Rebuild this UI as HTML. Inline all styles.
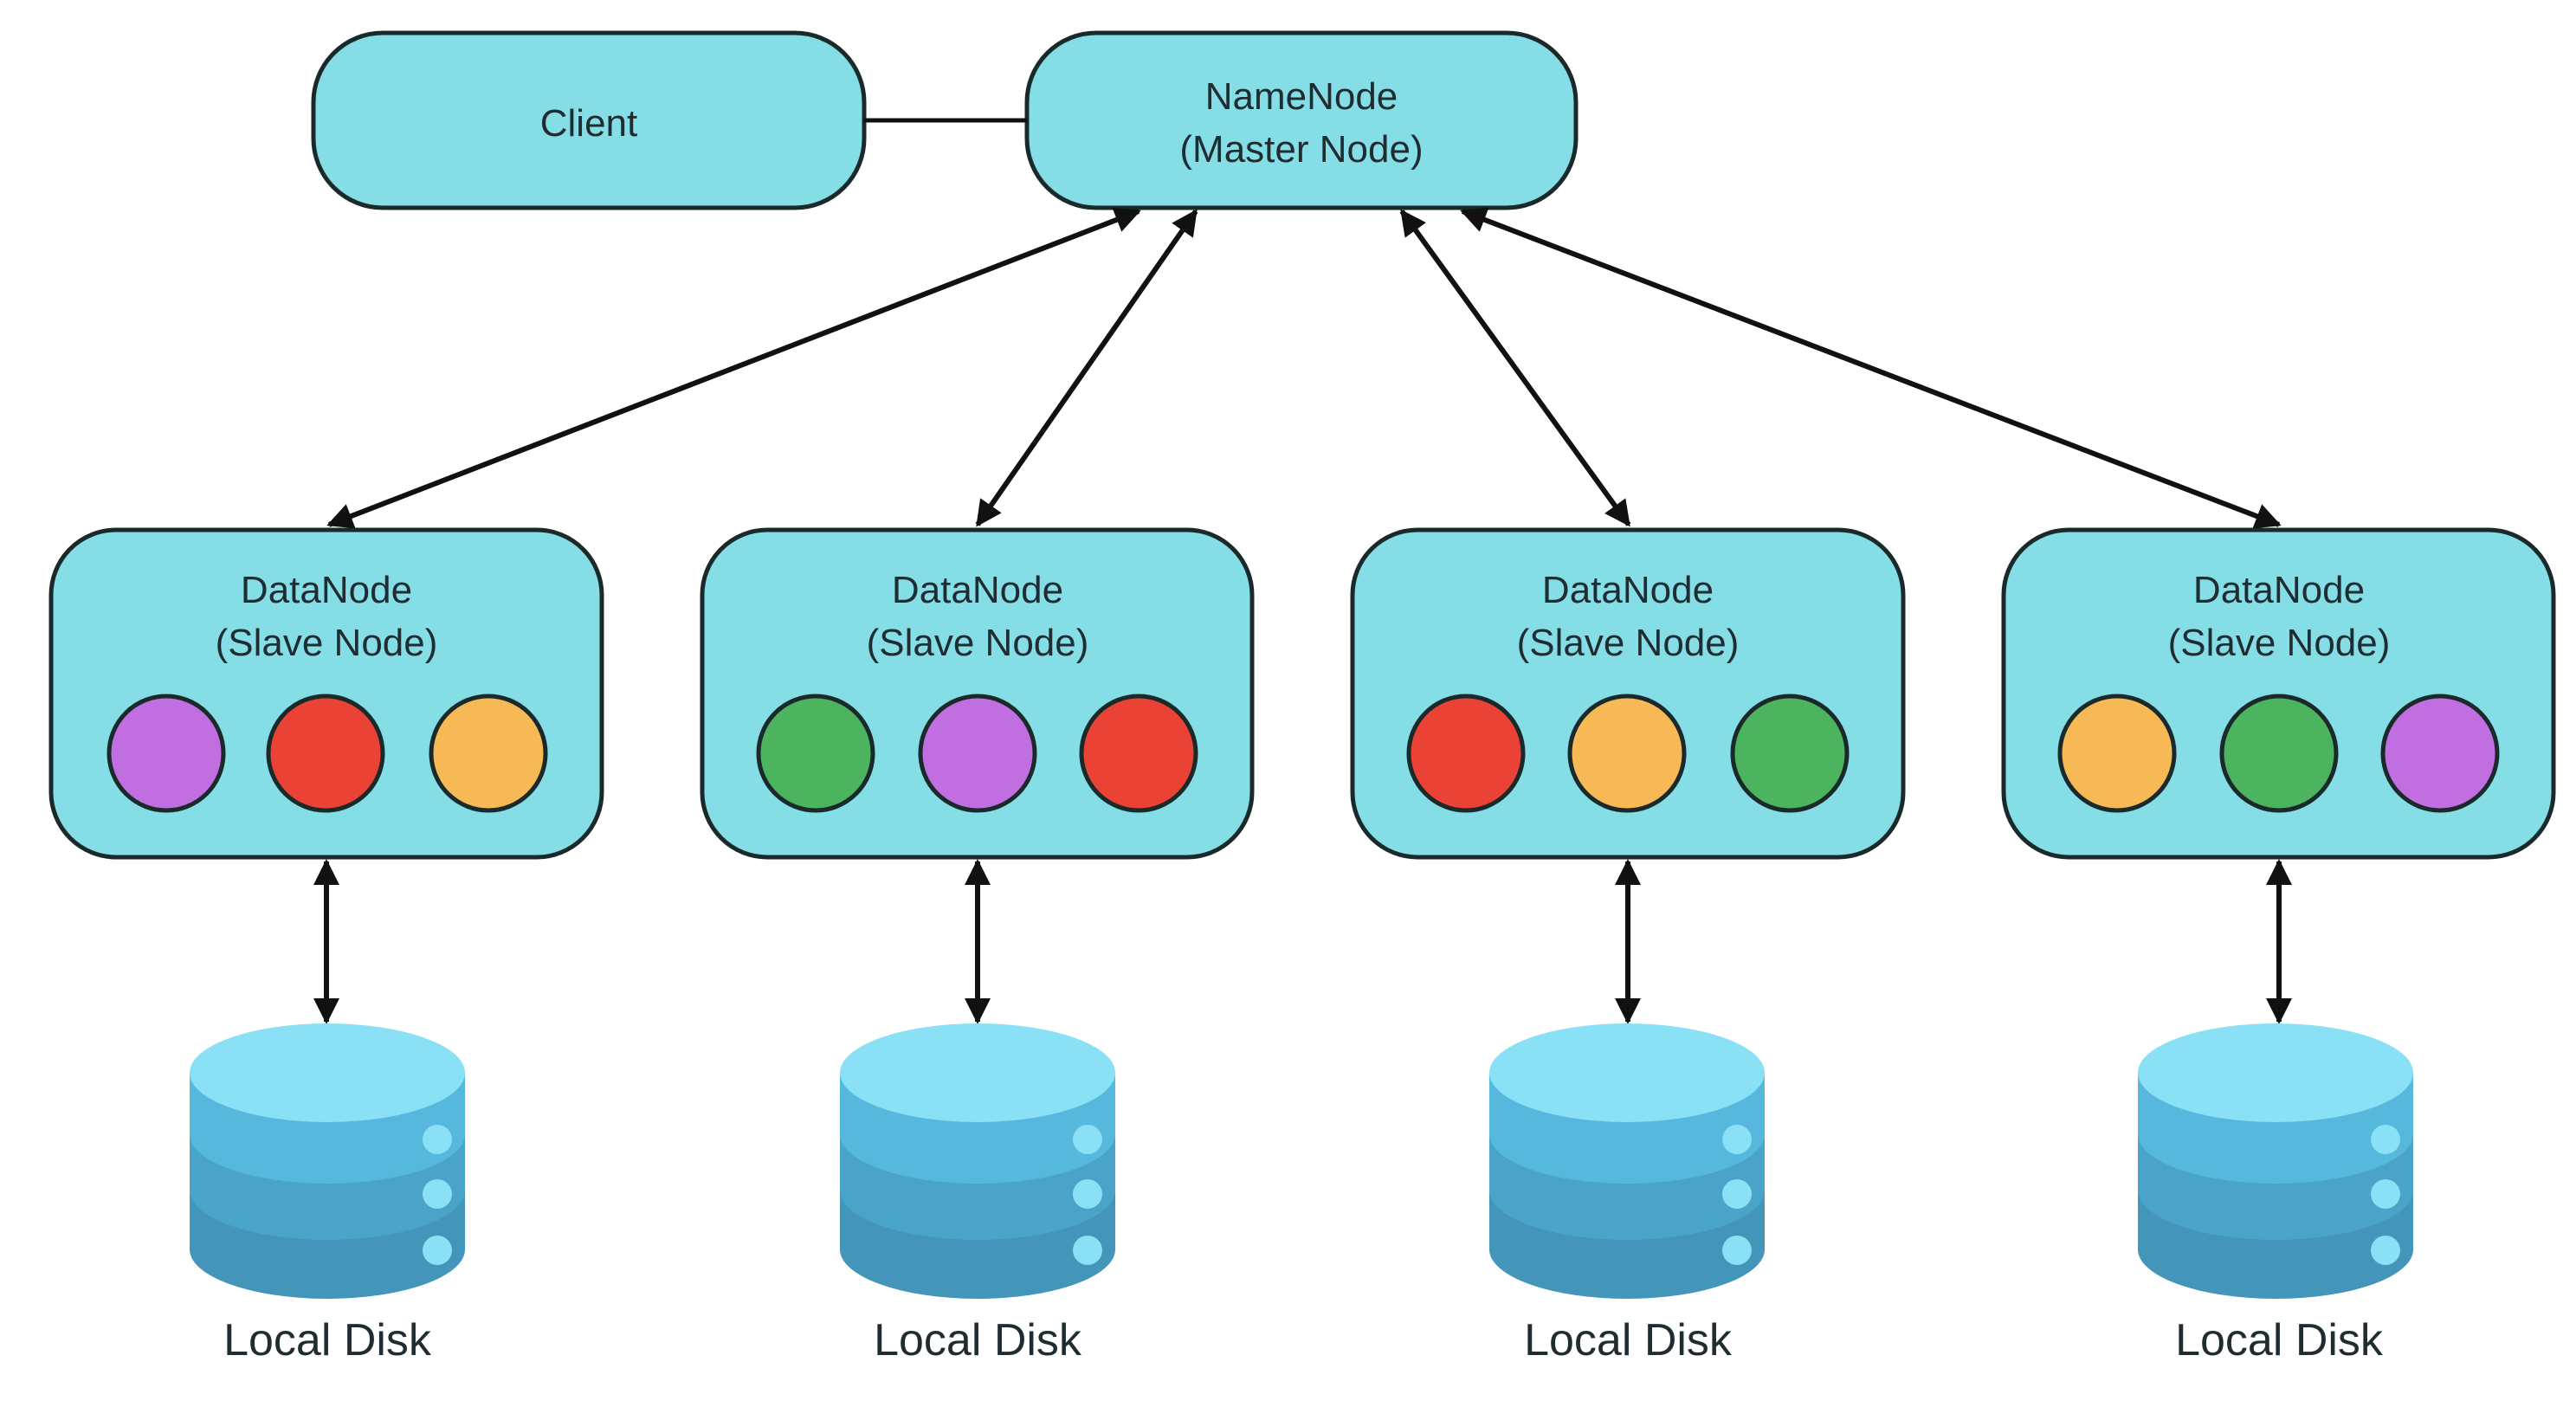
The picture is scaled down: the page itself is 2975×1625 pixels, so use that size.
<!DOCTYPE html>
<html><head><meta charset="utf-8"><style>
html,body{margin:0;padding:0;background:#fff;}
svg{display:block;}
text{font-family:"Liberation Sans",sans-serif;fill:#1f2d33;}
</style></head><body>
<svg width="2975" height="1625" viewBox="0 0 2975 1625" xmlns="http://www.w3.org/2000/svg">
<defs>
<marker id="ah" viewBox="0 0 10 10" refX="9" refY="5" markerWidth="5" markerHeight="5" orient="auto-start-reverse" markerUnits="strokeWidth">
<path d="M0,0 L10,5 L0,10 z" fill="#111"/></marker>
<g id="disk">
<path d="M-159,0 V204 A159,57 0 0 0 159,204 V0 Z" fill="#4395b9"/>
<path d="M-159,0 V136 A159,57 0 0 0 159,136 V0 Z" fill="#4aa3c8"/>
<path d="M-159,0 V71 A159,57 0 0 0 159,71 V0 Z" fill="#55b8dc"/>
<ellipse cx="0" cy="0" rx="159" ry="57" fill="#8ae0f5"/>
<ellipse cx="127" cy="77" rx="17" ry="17" fill="#8ae0f5"/>
<ellipse cx="127" cy="140" rx="17" ry="17" fill="#8ae0f5"/>
<ellipse cx="127" cy="205" rx="17" ry="17" fill="#8ae0f5"/>
</g>
</defs>
<g stroke="#1a2a2a" stroke-width="5" fill="#85dde6">
<rect x="362" y="38" width="636" height="202" rx="80"/>
<rect x="1186" y="38" width="634" height="202" rx="80"/>
<rect x="59" y="612" width="636" height="378" rx="75"/>
<rect x="811" y="612" width="635" height="378" rx="75"/>
<rect x="1562" y="612" width="636" height="378" rx="75"/>
<rect x="2314" y="612" width="635" height="378" rx="75"/>
</g>
<line x1="998" y1="139" x2="1186" y2="139" stroke="#111" stroke-width="5"/>
<g stroke="#111" stroke-width="6" fill="none" marker-start="url(#ah)" marker-end="url(#ah)">
<line x1="1315" y1="244" x2="380" y2="606"/>
<line x1="1381" y1="244" x2="1129" y2="606"/>
<line x1="1619" y1="244" x2="1881" y2="606"/>
<line x1="1689" y1="244" x2="2632" y2="606"/>
<line x1="377" y1="995" x2="377" y2="1180"/>
<line x1="1129" y1="995" x2="1129" y2="1180"/>
<line x1="1880" y1="995" x2="1880" y2="1180"/>
<line x1="2632" y1="995" x2="2632" y2="1180"/>
</g>
<g font-size="44" text-anchor="middle">
<text x="680" y="157">Client</text>
<text x="1503" y="126">NameNode</text>
<text x="1503" y="187">(Master Node)</text>
<text x="377" y="696">DataNode</text><text x="377" y="757">(Slave Node)</text>
<text x="1129" y="696">DataNode</text><text x="1129" y="757">(Slave Node)</text>
<text x="1880" y="696">DataNode</text><text x="1880" y="757">(Slave Node)</text>
<text x="2632" y="696">DataNode</text><text x="2632" y="757">(Slave Node)</text>
</g>
<g stroke="#1a2a2a" stroke-width="5">
<ellipse cx="192" cy="870" rx="66" ry="66" fill="#c06ee0"/>
<ellipse cx="376" cy="870" rx="66" ry="66" fill="#ea4335"/>
<ellipse cx="564" cy="870" rx="66" ry="66" fill="#f7b955"/>
<ellipse cx="942" cy="870" rx="66" ry="66" fill="#4cb35e"/>
<ellipse cx="1129" cy="870" rx="66" ry="66" fill="#c06ee0"/>
<ellipse cx="1315" cy="870" rx="66" ry="66" fill="#ea4335"/>
<ellipse cx="1693" cy="870" rx="66" ry="66" fill="#ea4335"/>
<ellipse cx="1879" cy="870" rx="66" ry="66" fill="#f7b955"/>
<ellipse cx="2067" cy="870" rx="66" ry="66" fill="#4cb35e"/>
<ellipse cx="2445" cy="870" rx="66" ry="66" fill="#f7b955"/>
<ellipse cx="2632" cy="870" rx="66" ry="66" fill="#4cb35e"/>
<ellipse cx="2818" cy="870" rx="66" ry="66" fill="#c06ee0"/>
</g>
<use href="#disk" x="378" y="1239"/>
<use href="#disk" x="1129" y="1239"/>
<use href="#disk" x="1879" y="1239"/>
<use href="#disk" x="2628" y="1239"/>
<g font-size="52" text-anchor="middle">
<text x="378" y="1565">Local Disk</text>
<text x="1129" y="1565">Local Disk</text>
<text x="1880" y="1565">Local Disk</text>
<text x="2632" y="1565">Local Disk</text>
</g>
</svg>
</body></html>
